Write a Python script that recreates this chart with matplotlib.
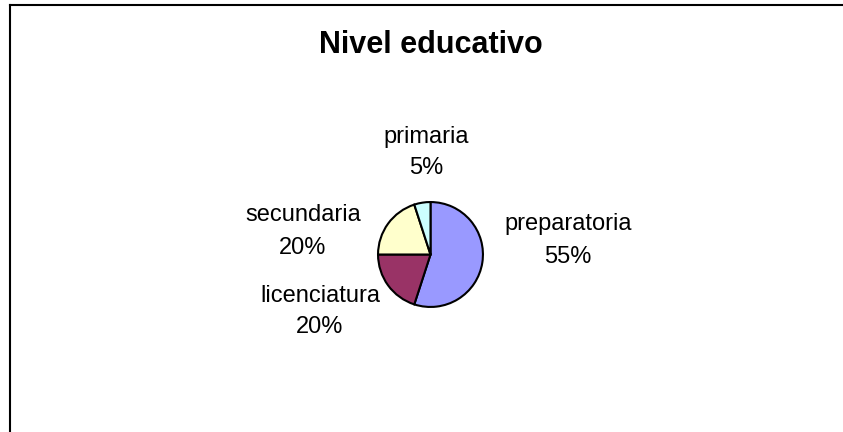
import matplotlib.pyplot as plt
from matplotlib.lines import Line2D

# data
categorias = ['preparatoria', 'licenciatura', 'secundaria', 'primaria']
porcentajes = [55, 20, 20, 5]
colores = ['#9999FF', '#993366', '#FFFFCC', '#CCFFFF']

W, H = 843, 432
fig = plt.figure(figsize=(W / 100, H / 100), dpi=100)
plt.rcParams['font.family'] = ['Liberation Sans', 'DejaVu Sans']

# pie axes: centre (430.5, 254.5) px, radius 53.5 px
cx, cy, r = 430.5, 254.5, 53.5
ax = fig.add_axes([(cx - r) / W, 1 - (cy + r) / H, 2 * r / W, 2 * r / H])
ax.pie(porcentajes, colors=colores, startangle=90, counterclock=False,
       radius=1, wedgeprops=dict(edgecolor='black', linewidth=1.5))
ax.set_xlim(-1.02, 1.02)
ax.set_ylim(-1.02, 1.02)
ax.set_aspect('equal')
ax.axis('off')

# label positions in pixels (x centre, baseline line1, baseline line2)
pos = {
    'preparatoria': (568, 230, 263),
    'licenciatura': (320, 302, 333),
    'secundaria': (303, 221, 254),
    'primaria': (426, 143, 174),
}
for cat, val in zip(categorias, porcentajes):
    x, b1, b2 = pos[cat]
    fig.text(x / W, 1 - b1 / H, cat, ha='center', va='baseline', fontsize=17)
    fig.text(x / W, 1 - b2 / H, f'{val}%', ha='center', va='baseline', fontsize=17)

fig.text(431 / W, 1 - 53 / H, 'Nivel educativo', ha='center', va='baseline',
         fontsize=22, fontweight='bold')

# chart frame (only left and top edges visible)
fig.add_artist(Line2D([9.5 / W, 9.5 / W], [0, 1 - 5 / H], transform=fig.transFigure,
                      color='black', linewidth=1.5))
fig.add_artist(Line2D([9.5 / W, 842 / W], [1 - 5 / H, 1 - 5 / H], transform=fig.transFigure,
                      color='black', linewidth=1.5))

fig.savefig('out.png', dpi=100, facecolor='white')
